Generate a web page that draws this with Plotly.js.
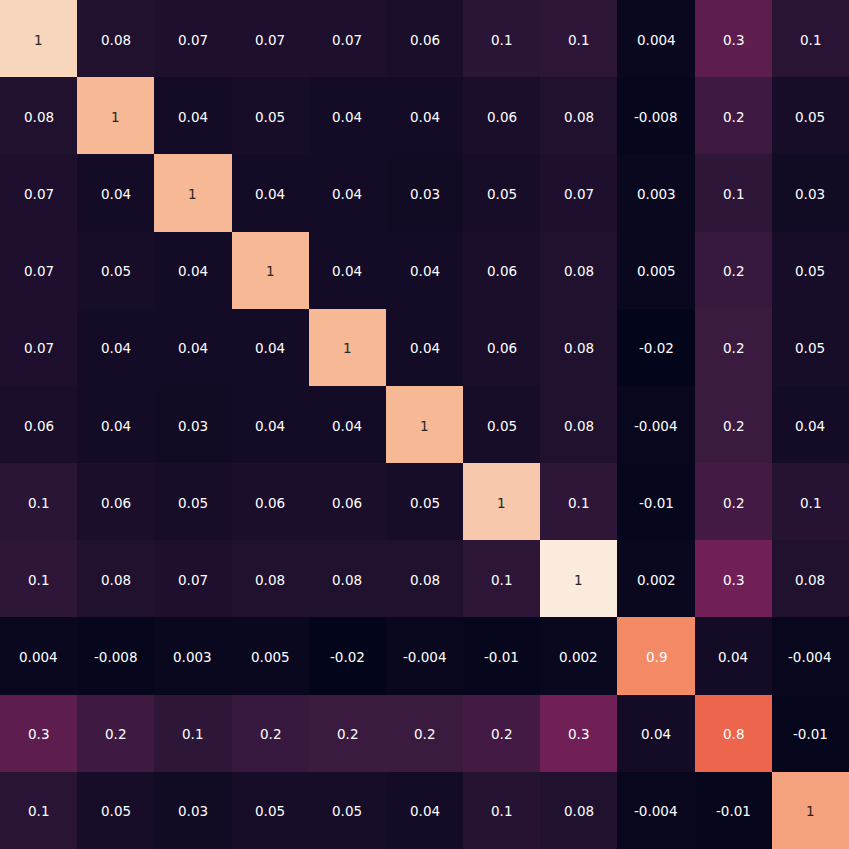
<!DOCTYPE html>
<html>
<head>
<meta charset="utf-8">
<script src="https://cdn.plot.ly/plotly-3.0.1.min.js"></script>
<style>html,body{margin:0;padding:0;background:#fff;}#chart{width:849px;height:849px;}</style>
</head>
<body>
<div id="chart"></div>
<script>
// Estimated matrix values (displayed with one significant digit)
const row0  = [1.12, 0.08, 0.07, 0.07, 0.07, 0.06, 0.12, 0.13, 0.004, 0.27, 0.11];
const row1  = [0.08, 1.03, 0.04, 0.05, 0.04, 0.04, 0.06, 0.08, -0.008, 0.18, 0.05];
const row2  = [0.07, 0.04, 1.03, 0.04, 0.04, 0.03, 0.05, 0.07, 0.003, 0.13, 0.03];
const row3  = [0.07, 0.05, 0.04, 1.03, 0.04, 0.04, 0.06, 0.08, 0.005, 0.16, 0.05];
const row4  = [0.07, 0.04, 0.04, 0.04, 1.03, 0.04, 0.06, 0.08, -0.02, 0.17, 0.05];
const row5  = [0.06, 0.04, 0.03, 0.04, 0.04, 1.03, 0.05, 0.08, -0.004, 0.17, 0.04];
const row6  = [0.12, 0.06, 0.05, 0.06, 0.06, 0.05, 1.08, 0.13, -0.01, 0.19, 0.10];
const row7  = [0.13, 0.08, 0.07, 0.08, 0.08, 0.08, 0.13, 1.19, 0.002, 0.33, 0.08];
const row8  = [0.004, -0.008, 0.003, 0.005, -0.02, -0.004, -0.01, 0.002, 0.90, 0.04, -0.004];
const row9  = [0.27, 0.18, 0.13, 0.16, 0.17, 0.17, 0.19, 0.33, 0.04, 0.80, -0.01];
const row10 = [0.11, 0.05, 0.03, 0.05, 0.05, 0.04, 0.10, 0.08, -0.004, -0.01, 0.97];

const z = [row0, row1, row2, row3, row4, row5, row6, row7, row8, row9, row10];
const n = z.length;
const idx = Array.from({length: n}, (_, i) => i);

const rocket = [
  [0.0, '#03051A'],
  [0.143, '#35193e'],
  [0.286, '#701f57'],
  [0.429, '#ad1759'],
  [0.571, '#e13342'],
  [0.714, '#f37651'],
  [0.857, '#f6b48f'],
  [1.0, '#faebdd']
];

let zmin = Infinity, zmax = -Infinity;
z.forEach(r => r.forEach(v => { zmin = Math.min(zmin, v); zmax = Math.max(zmax, v); }));

function fmt1g(v) { return String(Number(v.toPrecision(1))); }

const annotations = [];
z.forEach((r, i) => r.forEach((v, j) => {
  const frac = (v - zmin) / (zmax - zmin);
  annotations.push({
    x: j, y: i, xref: 'x', yref: 'y', showarrow: false, yshift: -1,
    text: fmt1g(v),
    font: {family: 'DejaVu Sans', size: 13.5, color: frac > 0.79 ? '#262626' : '#ffffff'}
  });
}));

const data = [{
  type: 'heatmap', z: z, x: idx, y: idx,
  colorscale: rocket, zmin: zmin, zmax: zmax,
  showscale: false, hoverinfo: 'skip'
}];

const layout = {
  width: 849, height: 849,
  margin: {l: 0, r: 0, t: 0, b: 0, pad: 0},
  paper_bgcolor: '#ffffff', plot_bgcolor: '#ffffff',
  xaxis: {visible: false, range: [-0.5, n - 0.5], fixedrange: true},
  yaxis: {visible: false, range: [n - 0.5, -0.5], fixedrange: true},
  annotations: annotations,
  showlegend: false
};

Plotly.newPlot('chart', data, layout, {staticPlot: true, displayModeBar: false});
</script>
</body>
</html>
